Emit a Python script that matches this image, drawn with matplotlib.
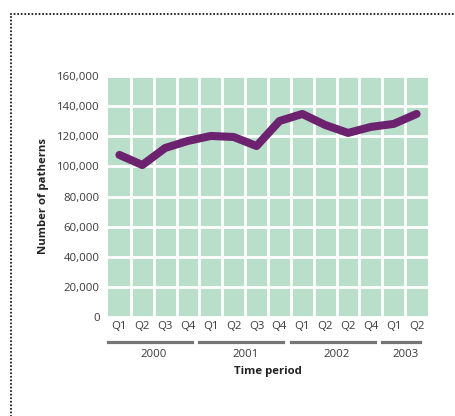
import numpy as np
import matplotlib
matplotlib.use('Agg')
from matplotlib import pyplot as plt
from matplotlib.lines import Line2D
import matplotlib.ticker as mticker

# data
quarters = ["Q1", "Q2", "Q3", "Q4", "Q1", "Q2", "Q3", "Q4",
            "Q1", "Q2", "Q2", "Q4", "Q1", "Q2"]
years = ["2000", "2001", "2002", "2003"]
year_spans = [(0, 3), (4, 7), (8, 11), (12, 13)]
patterns = [107600, 100900, 112200, 116900, 120200, 119500, 113500,
            130100, 134800, 127500, 122200, 126200, 128200, 134800]

plt.rcParams['font.family'] = ['Open Sans', 'DejaVu Sans']
fs = 8.2

fig = plt.figure(figsize=(4.56, 4.16), dpi=100)

# dotted frame (top and left visible)
dots = dict(color='#1a1a1a', linestyle=(0, (0.01, 1.7)), linewidth=1.5,
            dash_capstyle='round', transform=fig.transFigure)
fig.add_artist(Line2D([11/456, 1.0], [1 - 14/416, 1 - 14/416], **dots))
fig.add_artist(Line2D([11/456, 11/456], [0, 1 - 14/416], **dots))

ax = fig.add_axes([108/456, 99/416, 320/456, 241/416])
ax.set_facecolor('#b9dfcb')
for s in ax.spines.values():
    s.set_visible(False)

x = np.arange(len(patterns))
ax.set_xlim(-0.5, len(patterns) - 0.5)
ax.set_ylim(0, 160000)

# white grid between cells
ax.set_xticks(np.arange(0.5, len(patterns) - 0.5, 1), minor=True)
ax.grid(which='minor', axis='x', color='white', linewidth=2)
ax.grid(which='major', axis='y', color='white', linewidth=2)
ax.set_axisbelow(True)

ax.plot(x, patterns, color='#6c226f', linewidth=5.8,
        solid_joinstyle='round', solid_capstyle='round', zorder=3)

ax.set_yticks(np.arange(0, 160001, 20000))
ax.yaxis.set_major_formatter(mticker.FuncFormatter(lambda v, p: "{:,}".format(int(v))))
ax.set_xticks(x)
ax.set_xticklabels(quarters)
ax.tick_params(axis='both', which='both', length=0, labelsize=fs, colors='#3a3a3a')
ax.tick_params(axis='x', pad=3)
ax.tick_params(axis='y', pad=6)

trans = ax.get_xaxis_transform()
for yr, (a, b) in zip(years, year_spans):
    ax.add_line(Line2D([a - 0.5, b + 0.5 - 0.33], [-0.104, -0.104], color='#757575',
                       linewidth=2.3, transform=trans, clip_on=False))
    ax.text((a + b) / 2, -0.155, yr, transform=trans, ha='center', va='center',
            fontsize=fs, color='#3a3a3a')

ax.text(0.5, -0.226, "Time period", transform=ax.transAxes, ha='center', va='center',
        fontsize=fs, fontweight='bold', color='#222222')
ax.set_ylabel("Number of patherns", fontsize=fs, fontweight='bold', color='#222222',
              labelpad=6)

plt.savefig('out.png', dpi=100)
